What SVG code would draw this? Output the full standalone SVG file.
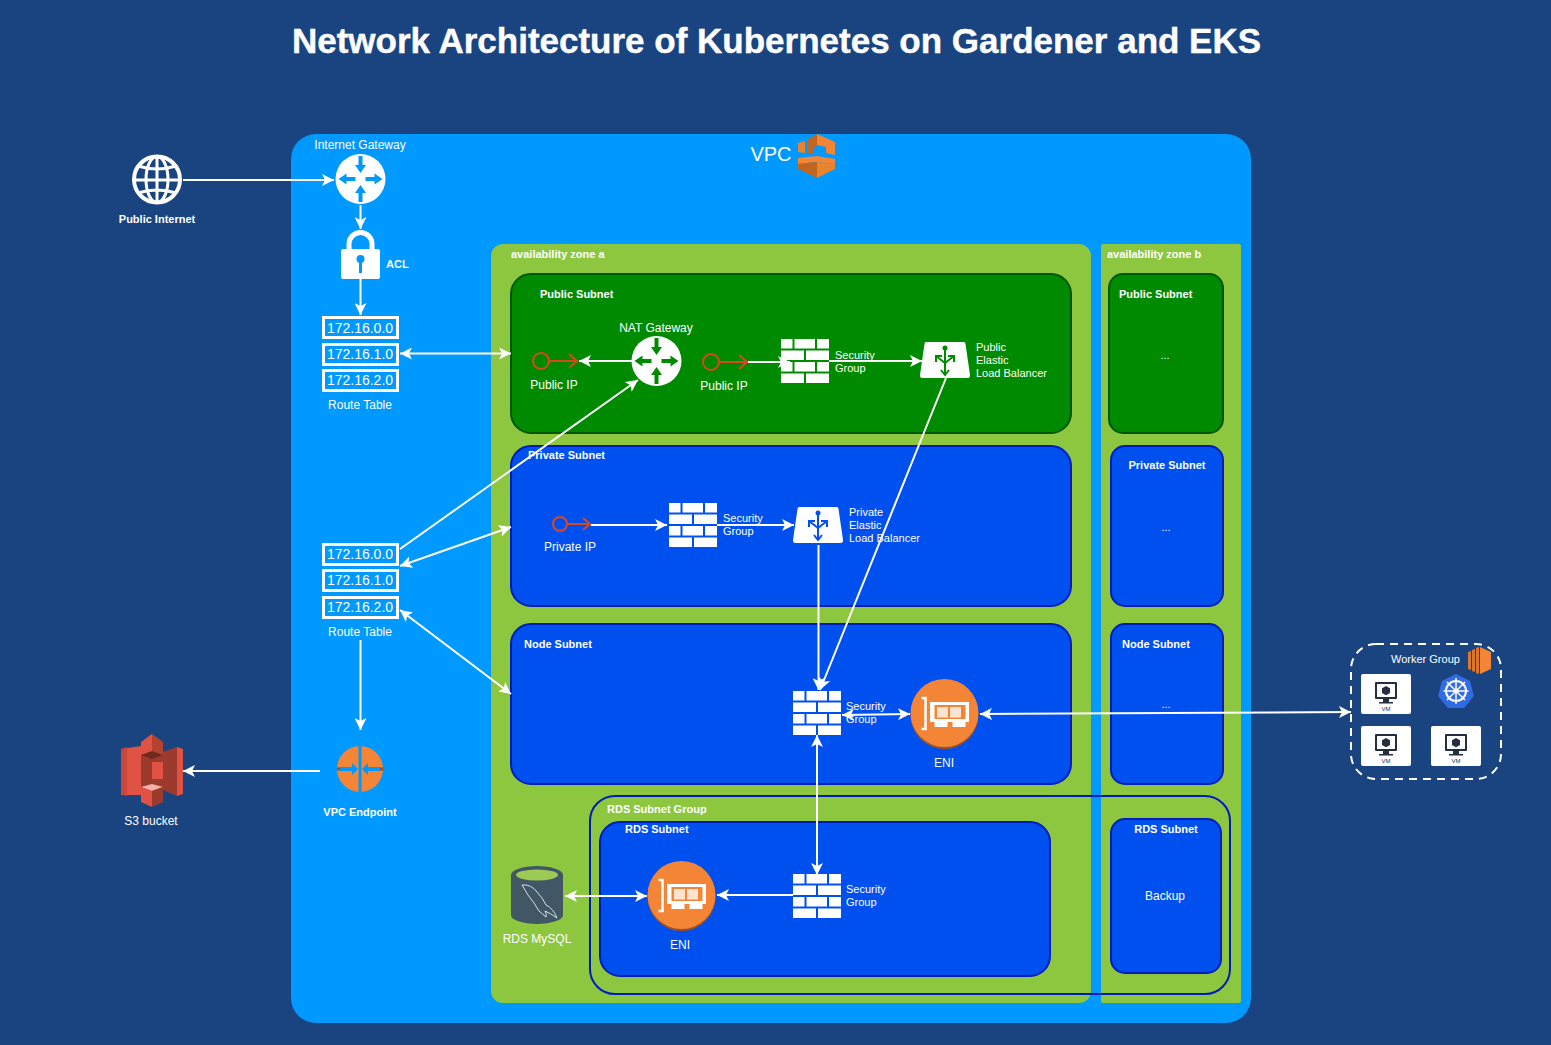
<svg xmlns="http://www.w3.org/2000/svg" xmlns:xlink="http://www.w3.org/1999/xlink" width="1551" height="1045" viewBox="0 0 1551 1045">
<style>
text{font-family:"Liberation Sans",Arial,sans-serif;fill:#fff;font-size:12px}
.b{font-weight:bold;font-size:11px}
.m{text-anchor:middle}
.sub{stroke-width:2}
.blue{fill:#0050ef;stroke:#001dbc}
.green{fill:#008a00;stroke:#005700}
.rt{fill:none;stroke:#fff;stroke-width:3}
.rtt{font-size:14px;text-anchor:middle;font-weight:normal}
#conn line{stroke:#fff;stroke-width:2;fill:none}
.end{marker-end:url(#a)}
.both{marker-end:url(#a);marker-start:url(#a)}
.ip{fill:none;stroke:#d9471e;stroke-width:2}
</style>
<defs>
<marker id="a" markerUnits="userSpaceOnUse" markerWidth="14" markerHeight="12" refX="12" refY="6" orient="auto-start-reverse"><path d="M12,6 L0,0 L3,6 L0,12 Z" fill="#fff"/></marker>
<g id="router">
<circle r="25" fill="#fff"/>
<g fill="currentColor">
<path d="M-2,-23 H2 V-14 H5.500 L0,-6 L-5.500,-14 H-2 Z"/>
<path d="M-2,23 H2 V14 H5.500 L0,6 L-5.500,14 H-2 Z"/>
<path d="M-5,-2 V2 H-14 V5.500 L-22,0 L-14,-5.500 V-2 Z"/>
<path d="M5,-2 V2 H14 V5.500 L22,0 L14,-5.500 V-2 Z"/>
</g>
</g>
<g id="fw" fill="#fff">
<rect x="0" y="0" width="11.500" height="9.500"/><rect x="13.500" y="0" width="20.500" height="9.500"/><rect x="36" y="0" width="12" height="9.500"/>
<rect x="0" y="11.500" width="23" height="9.500"/><rect x="25" y="11.500" width="23" height="9.500"/>
<rect x="0" y="23" width="11.500" height="9.500"/><rect x="13.500" y="23" width="20.500" height="9.500"/><rect x="36" y="23" width="12" height="9.500"/>
<rect x="0" y="34.500" width="23" height="9.500"/><rect x="25" y="34.500" width="23" height="9.500"/>
</g>
<g id="elb">
<path d="M-19,-18 H19 Q20.500,-18 20.500,-16 L25,15 Q25,18 23,18 H-23 Q-25,18 -25,15 L-20.500,-16 Q-20.500,-18 -19,-18 Z" fill="#fff"/>
<g fill="none" stroke="currentColor" stroke-width="2"><path d="M0,-11 V14"/><path d="M-4,10 L0,15 L4,10"/><path d="M0,3 L-9,-4"/><path d="M0,3 L9,-4"/><path d="M-9,2 V-4 H-3"/><path d="M9,2 V-4 H3"/></g>
<circle cy="-12" r="2.500" fill="currentColor"/>
</g>
<g id="eni">
<circle cy="2" r="34" fill="#9d5025"/>
<circle r="34" fill="#f58536"/>
<path d="M-23,-15 H-19 V16 H-23" fill="none" stroke="#fff" stroke-width="2.500"/>
<path d="M-14.500,-11 H24.500 V9 H21 V14 H8 V9 H3 V14 H-10 V9 H-14.500 Z" fill="#fff"/>
<rect x="-10" y="-8" width="31" height="14" fill="#f58536"/>
<rect x="-7.500" y="-6" width="11" height="10.500" fill="#fde3d0"/><rect x="5.500" y="-6" width="11" height="10.500" fill="#fde3d0"/>
</g>
<g id="vm">
<rect width="50" height="40" rx="2" fill="#fff"/>
<rect x="14" y="8" width="22" height="17" rx="1" fill="#232f3e"/><rect x="16" y="10" width="18" height="13" fill="#fff"/>
<path d="M25,12 L29,14.200 V19 L25,21.200 L21,19 V14.200 Z" fill="#232f3e"/>
<path d="M22,28 H28 V25 H22 Z M18,28 H32 V29.500 H18 Z" fill="#232f3e"/>
<text x="25" y="37" class="m" style="font-size:6px;fill:#232f3e">VM</text>
</g>
<g id="rtb">
<rect x="1.500" y="1.500" width="74" height="20" class="rt"/>
</g>
</defs>

<rect width="1551" height="1045" fill="#1a4480"/>
<text x="776.500" y="53" class="m" style="font-size:35px;font-weight:bold;stroke:#fff;stroke-width:.4">Network Architecture of Kubernetes on Gardener and EKS</text>

<g id="vpc">
<rect x="291" y="134" width="960" height="889" rx="25" fill="#0099ff"/>
<text x="771" y="161" class="m" style="font-size:20px">VPC</text>
<path d="M798,143 L805,141 V153 L798,152 Z" fill="#e8832e"/>
<path d="M807,140 L817,134 V146 L814,147 V154 L807,154 Z" fill="#c2651f"/>
<path d="M817,134 L835,142 V155 L826,153 V147 L817,145 Z" fill="#f58536"/>
<path d="M798,158 L817,156 L835,159 V164 L817,162 L798,164 Z" fill="#f58536"/>
<path d="M798,164 L817,162 V178 L798,169 Z" fill="#c2651f"/>
<path d="M817,162 L835,164 V169 L817,178 Z" fill="#e8832e"/>
</g>
<g id="az-a">
<rect x="491" y="244" width="600" height="759" rx="12" fill="#8dc63f"/>
<text x="511" y="258" class="b">availability zone a</text>
</g>
<g id="az-b">
<rect x="1101" y="244" width="140" height="759" rx="2" fill="#8dc63f"/>
<text x="1107" y="258" class="b">availability zone b</text>
</g>
<g id="public-subnet-a">
<rect x="511" y="274" width="560" height="159" rx="20" class="sub green"/>
<text x="540" y="298" class="b">Public Subnet</text>
</g>
<g id="private-subnet-a">
<rect x="511" y="446" width="560" height="160" rx="20" class="sub blue"/>
<text x="528" y="459" class="b">Private Subnet</text>
</g>
<g id="node-subnet-a">
<rect x="511" y="624" width="560" height="160" rx="20" class="sub blue"/>
<text x="524" y="648" class="b">Node Subnet</text>
</g>
<g id="rds-subnet-a">
<rect x="600" y="822" width="450" height="154" rx="20" class="sub blue"/>
<text x="625" y="833" class="b">RDS Subnet</text>
</g>
<g id="public-subnet-b">
<rect x="1109" y="274" width="114" height="159" rx="14" class="sub green"/>
<text x="1119" y="298" class="b">Public Subnet</text>
<text x="1165" y="359" class="m" style="font-size:11px">...</text>
</g>
<g id="private-subnet-b">
<rect x="1111" y="446" width="112" height="160" rx="14" class="sub blue"/>
<text x="1167" y="469" class="b m">Private Subnet</text>
<text x="1166" y="531" class="m" style="font-size:11px">...</text>
</g>
<g id="node-subnet-b">
<rect x="1111" y="624" width="112" height="160" rx="14" class="sub blue"/>
<text x="1122" y="648" class="b">Node Subnet</text>
<text x="1166" y="708" class="m" style="font-size:11px">...</text>
</g>
<g id="rds-subnet-b">
<rect x="1111" y="819" width="110" height="154" rx="14" class="sub blue"/>
<text x="1166" y="833" class="b m">RDS Subnet</text>
<text x="1165" y="900" class="m">Backup</text>
</g>
<g id="rds-group">
<rect x="590" y="796" width="640" height="198" rx="25" fill="none" stroke="#001dbc" stroke-width="2"/>
<text x="607" y="813" class="b">RDS Subnet Group</text>
</g>

<g id="public-internet">
<circle cx="157" cy="179.500" r="23" fill="none" stroke="#fff" stroke-width="4"/>
<ellipse cx="157" cy="179.500" rx="11" ry="23" fill="none" stroke="#fff" stroke-width="3"/>
<path d="M157,157 V203 M134,180 H180 M138,166 Q157,172 176,166 M138,193 Q157,187 176,193" fill="none" stroke="#fff" stroke-width="3"/>
<text x="157" y="223" class="b m">Public Internet</text>
</g>
<g id="internet-gateway">
<use href="#router" transform="translate(360.500,179)" color="#0099ff"/>
<text x="360" y="149" class="m">Internet Gateway</text>
</g>
<g id="acl">
<path d="M349,252 V244 A11.500,11.500 0 0 1 372,244 V252" fill="none" stroke="#fff" stroke-width="5"/>
<rect x="341" y="249" width="39" height="30" rx="2" fill="#fff"/>
<circle cx="360.500" cy="259" r="4" fill="#0099ff"/><rect x="359" y="260" width="3" height="13" fill="#0099ff"/>
<text x="386" y="268" class="b">ACL</text>
</g>
<g id="route-table-1">
<use href="#rtb" x="322" y="316"/><use href="#rtb" x="322" y="343"/><use href="#rtb" x="322" y="369"/>
<text x="360" y="333" class="rtt">172.16.0.0</text>
<text x="360" y="359" class="rtt">172.16.1.0</text>
<text x="360" y="385" class="rtt">172.16.2.0</text>
<text x="360" y="409" class="m">Route Table</text>
</g>
<g id="route-table-2">
<use href="#rtb" x="322" y="543"/><use href="#rtb" x="322" y="569"/><use href="#rtb" x="322" y="596"/>
<text x="360" y="559" class="rtt">172.16.0.0</text>
<text x="360" y="585" class="rtt">172.16.1.0</text>
<text x="360" y="612" class="rtt">172.16.2.0</text>
<text x="360" y="636" class="m">Route Table</text>
</g>
<g id="vpc-endpoint">
<circle cx="360" cy="769" r="23" fill="#f58536"/>
<path d="M337,769 H352 M383,769 H368" stroke="#9d5025" stroke-width="3"/>
<path d="M360,746 V792" stroke="#0099ff" stroke-width="3"/>
<path d="M340,767 H352 V763 L358,769 L352,775 V771 H340 Z M380,767 H368 V763 L362,769 L368,775 V771 H380 Z" fill="#0099ff"/>
<text x="360" y="816" class="b m">VPC Endpoint</text>
</g>
<g id="s3">
<rect x="141" y="750" width="22" height="42" fill="#9c3b2d"/>
<path d="M121,749 L141,746 V795 L121,795 Z" fill="#e05243"/>
<path d="M121,749 L127,747 V796 L121,794 Z" fill="#c8473a"/>
<path d="M163,752 L177,747 V796 L163,790 Z" fill="#9c3b2d"/>
<path d="M177,747 L183,749 V794 L177,796 Z" fill="#e05243"/>
<path d="M141,742 L152,734 V755 L141,755 Z" fill="#e05243"/>
<path d="M152,734 L163,742 V755 H152 Z" fill="#b5412f"/>
<path d="M141,755 L152,751 L163,755 L152,759 Z" fill="#6e2a1d"/>
<path d="M152,762 H163 V779 H152 Z" fill="#e05243"/>
<path d="M141,787 L152,784 L163,787 L152,791 Z" fill="#f2b0a9"/>
<path d="M141,787 L152,791 V807 L141,802 Z" fill="#e05243"/>
<path d="M163,787 L152,791 V807 L163,802 Z" fill="#9c3b2d"/>
<text x="151" y="825" class="m">S3 bucket</text>
</g>
<g id="public-ip-1"><circle cx="541" cy="361" r="8" class="ip"/><path d="M549,361 H577 M569,354 L577,361 L569,368" class="ip"/><text x="554" y="389" class="m">Public IP</text></g>
<g id="nat-gateway"><use href="#router" transform="translate(656.500,361)" color="#008a00"/><text x="656" y="332" class="m">NAT Gateway</text></g>
<g id="public-ip-2"><circle cx="711" cy="362" r="8" class="ip"/><path d="M719,362 H747 M739,355 L747,362 L739,369" class="ip"/><text x="724" y="390" class="m">Public IP</text></g>
<g id="sg-public"><use href="#fw" x="781" y="339"/><text x="835" y="359" style="font-size:11px">Security</text><text x="835" y="372" style="font-size:11px">Group</text></g>
<g id="elb-public"><use href="#elb" transform="translate(945,360)" color="#008a00"/><text x="976" y="351" style="font-size:11px">Public</text><text x="976" y="364" style="font-size:11px">Elastic</text><text x="976" y="377" style="font-size:11px">Load Balancer</text></g>
<g id="private-ip"><circle cx="560" cy="524" r="7" class="ip"/><path d="M567,524 H590 M583,518 L590,524 L583,530" class="ip"/><text x="570" y="551" class="m">Private IP</text></g>
<g id="sg-private"><use href="#fw" x="669" y="503"/><text x="723" y="522" style="font-size:11px">Security</text><text x="723" y="535" style="font-size:11px">Group</text></g>
<g id="elb-private"><use href="#elb" transform="translate(818,525)" color="#0050ef"/><text x="849" y="516" style="font-size:11px">Private</text><text x="849" y="529" style="font-size:11px">Elastic</text><text x="849" y="542" style="font-size:11px">Load Balancer</text></g>
<g id="sg-node"><use href="#fw" x="793" y="691"/><text x="846" y="710" style="font-size:11px">Security</text><text x="846" y="723" style="font-size:11px">Group</text></g>
<g id="eni-node"><use href="#eni" transform="translate(944.500,713)"/><text x="944" y="767" class="m">ENI</text></g>
<g id="sg-rds"><use href="#fw" x="793" y="874"/><text x="846" y="893" style="font-size:11px">Security</text><text x="846" y="906" style="font-size:11px">Group</text></g>
<g id="eni-rds"><use href="#eni" transform="translate(681.500,895)"/><text x="680" y="949" class="m">ENI</text></g>
<g id="rds-mysql">
<path d="M511,875 V915 A26,9 0 0 0 563,915 V875 Z" fill="#415766"/>
<ellipse cx="537" cy="875" rx="26" ry="9" fill="#415766"/>
<ellipse cx="537" cy="875" rx="21" ry="5.500" fill="#9ccb55"/>
<path d="M522,885 Q531,884 537,892 Q543,898 546,905 Q553,908 557,918 Q550,913 545,911 Q547,914 546,917 Q538,912 534,903 Q528,896 522,885 Z" fill="none" stroke="#fff" stroke-width=".8"/>
<text x="537" y="943" class="m">RDS MySQL</text>
</g>
<g id="worker-group">
<rect x="1351" y="644" width="150" height="135" rx="25" fill="none" stroke="#fff" stroke-width="2" stroke-dasharray="8 6"/>
<text x="1391" y="663" style="font-size:11px">Worker Group</text>
<path d="M1468,652 L1471,651 V670 L1468,669 Z M1472,650 L1475,649 V672 L1472,671 Z M1476,648 L1479,647 V674 L1476,673 Z" fill="#d9772a"/>
<path d="M1480,647 L1491,652 V669 L1480,674 Z" fill="#f58536"/>
<use href="#vm" x="1361" y="674"/><use href="#vm" x="1361" y="726"/><use href="#vm" x="1431" y="726"/>
<path d="M1456,674 L1470,681 L1474,696 L1464,708 H1448 L1438,696 L1442,681 Z" fill="#326ce5"/>
<circle cx="1456" cy="691" r="10" fill="none" stroke="#fff" stroke-width="2"/>
<path d="M1456,678 V704 M1443.500,691 H1468.500 M1447,682 L1465,700 M1465,682 L1447,700" stroke="#fff" stroke-width="1.500"/>
<circle cx="1456" cy="691" r="2.500" fill="#fff"/>
</g>

<g id="conn">
<line x1="183" y1="180" x2="334" y2="180" class="end"/>
<line x1="360.500" y1="205" x2="360.500" y2="229" class="end"/>
<line x1="360.500" y1="279" x2="360.500" y2="315" class="end"/>
<line x1="400" y1="353.500" x2="511" y2="353.500" class="both"/>
<line x1="400" y1="549" x2="638" y2="380" class="end"/>
<line x1="400" y1="566" x2="511" y2="527" class="both"/>
<line x1="400" y1="610" x2="511" y2="694" class="both"/>
<line x1="360.500" y1="640" x2="360.500" y2="730" class="end"/>
<line x1="320" y1="771" x2="183" y2="771" class="end"/>
<line x1="632" y1="361" x2="579" y2="361" class="end"/>
<line x1="748" y1="362" x2="790" y2="362" class="end"/>
<line x1="829" y1="361" x2="922" y2="361" class="end"/>
<line x1="946" y1="378" x2="820" y2="690" class="end"/>
<line x1="591" y1="525" x2="667" y2="525" class="end"/>
<line x1="717" y1="525" x2="794" y2="525" class="end"/>
<line x1="818.500" y1="545" x2="818.500" y2="690" class="end"/>
<line x1="842" y1="715" x2="910" y2="714" class="both"/>
<line x1="817" y1="735" x2="817" y2="875" class="both"/>
<line x1="793" y1="895" x2="717" y2="895" class="end"/>
<line x1="565" y1="896" x2="647" y2="896" class="both"/>
<line x1="980" y1="714" x2="1351" y2="712" class="both"/>
</g>
</svg>
